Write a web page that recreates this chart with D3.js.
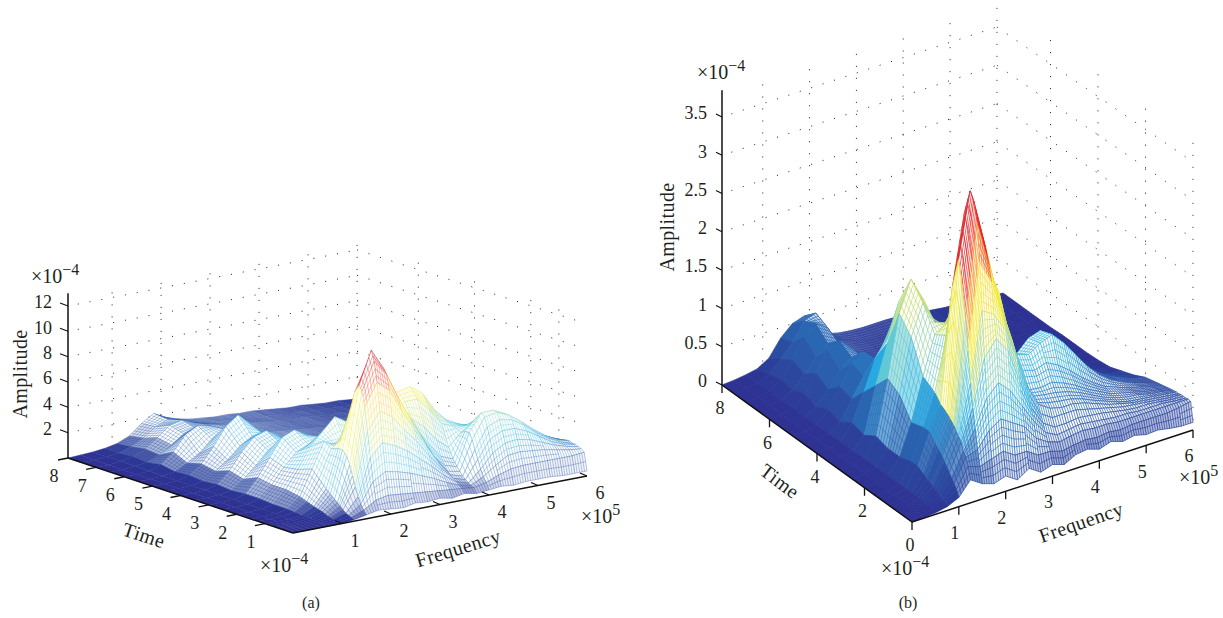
<!DOCTYPE html>
<html><head><meta charset="utf-8">
<style>html,body{margin:0;padding:0;background:#fff}svg{display:block}text{font-family:"Liberation Serif",serif;fill:#231f20}</style>
<script src="https://cdn.jsdelivr.net/npm/d3@7"></script></head>
<body><svg id="c" width="1223" height="618"></svg>
<script>
const freq=[0,.25,.5,.75,1,1.25,1.5,1.75,2,2.25,2.5,2.75,3,3.25,3.5,3.75,4,4.25,4.5,4.75,5,5.25,5.5,5.75,6];
const time=[0,.1,.2,.3,.4,.5,.6,.7,.85,1,1.25,1.5,2,2.5,3,3.5,4,4.5,5,5.5,6,6.5,7,7.5,8];
const ampA=[
[0,0,0,0,0,.1,.3,.5,.4,.3,.5,.4,.5,.3,.5,.3,.4,.5,.4,.5,.5,.5,.4,.4,.4],
[0,0,0,0,.05,.2,.6,1.2,1.4,1.3,1.2,1.1,1,.9,.8,.7,.9,1.3,1.6,1.7,1.7,1.7,1.7,1.7,1.8],
[0,0,0,0,.05,.3,1,2.6,3.2,3,2.7,2.3,1.9,1.4,1,.8,1.3,2,2.6,2.7,2.6,2.5,2.3,2.1,2],
[0,0,0,0,.1,.4,1.5,4.4,5.4,5,4.4,3.6,2.8,1.9,1.2,.9,1.8,2.9,3.5,3.6,3.4,3,2.6,2.3,2.1],
[0,0,0,.05,.15,.6,2.2,6.4,7.8,7.2,6,4.9,3.6,2.4,1.4,1.1,2.5,3.9,4.4,4.4,4,3.4,2.8,2.4,2.2],
[0,0,0,.05,.2,.8,3,8.2,10,9.2,7.4,5.8,4.3,2.8,1.6,1.3,3.2,4.8,5.2,5,4.4,3.6,3,2.5,2.2],
[0,0,0,.05,.3,1,3.8,9.4,11.6,10.4,8.3,6.4,4.7,3,1.8,1.6,3.9,5.5,5.7,5.3,4.6,3.8,3.1,2.6,2.3],
[0,0,0,.1,.4,1.2,4.4,9.8,12.4,10.8,8.6,6.8,5,3.2,2.2,1.9,4.4,5.8,5.8,5.3,4.6,3.8,3.1,2.6,2.3],
[0,0,0,.1,.5,1.5,4.8,9.2,11.2,10,8.2,6.8,5.4,4,2.8,2.4,4.4,5.4,5.4,5,4.4,3.7,3,2.6,2.2],
[0,0,0,.1,.6,1.8,4.8,7.8,8.8,8,7.2,6.6,6,5.2,4,3.2,4.2,4.9,4.9,4.6,4.1,3.5,2.9,2.5,2.1],
[0,0,0,.15,.8,2.4,4.6,5.4,5,4.8,5.4,6.4,7.2,7.2,6.2,4.9,4.5,4.4,4.3,4.1,3.7,3.2,2.7,2.3,2],
[0,0,.05,.2,1,3,5,4.4,3.8,3.8,4.8,6.6,7.8,8,7.3,5.8,4.8,4.3,3.9,3.6,3.3,2.9,2.5,2.1,1.8],
[0,0,.05,.2,1.2,2.6,4.2,5.2,6.2,5.6,4.8,4.6,5.2,5.4,5,4.4,3.8,3.4,3.1,2.9,2.6,2.4,2.1,1.8,1.5],
[0,0,.05,.3,1.2,2.4,3.4,3.8,4.2,4,3.4,3.2,3.4,3.4,3.2,3,2.8,2.6,2.4,2.2,2,1.9,1.7,1.5,1.3],
[0,0,.05,.3,1.4,2.8,4.2,4.6,4,3.2,2.6,2.4,2.4,2.4,2.3,2.2,2.1,2,1.9,1.7,1.6,1.5,1.4,1.2,1.1],
[0,0,.05,.2,.9,1.8,2.8,3.2,3,2.6,2.2,2,1.9,1.8,1.8,1.7,1.6,1.5,1.4,1.3,1.2,1.2,1.1,1,.9],
[0,0,.05,.3,1.2,2.5,3.5,3.8,3.2,2.5,2,1.8,1.7,1.6,1.5,1.4,1.3,1.3,1.2,1.1,1,1,.9,.8,.7],
[0,0,.05,.2,.8,1.5,2.4,3,2.9,2.2,1.8,1.6,1.5,1.4,1.3,1.2,1.1,1.1,1,1,.9,.8,.8,.7,.6],
[0,0,.05,.3,1,2.2,3.6,4.3,3.4,2.4,1.9,1.6,1.4,1.3,1.2,1.1,1,1,.9,.9,.8,.7,.7,.6,.5],
[0,0,.05,.2,.7,1.3,2.2,2.8,2.4,1.9,1.6,1.4,1.3,1.2,1.1,1,.9,.9,.8,.8,.7,.7,.6,.5,.5],
[0,0,.05,.4,1.2,2.4,2.9,2.7,2.2,1.9,1.6,1.4,1.3,1.2,1.1,1,.9,.8,.8,.7,.7,.6,.6,.5,.4],
[0,0,.1,.2,.6,1.2,1.9,2.1,1.8,1.6,1.4,1.3,1.2,1.1,1,.9,.8,.8,.7,.7,.6,.6,.5,.4,.4],
[0,0,.1,.3,.7,1.4,2.2,2.4,2,1.7,1.5,1.3,1.2,1.1,1,.9,.8,.8,.7,.6,.6,.5,.5,.4,.3],
[0,.05,.1,.2,.5,1,1.7,2.1,1.8,1.5,1.3,1.2,1.1,1,.9,.9,.8,.7,.7,.6,.5,.5,.4,.3,.3],
[0,.05,.1,.2,.4,.8,1.6,2.2,1.7,1.4,1.2,1.1,1,1,.9,.9,.8,.7,.6,.6,.5,.4,.4,.3,.2]];
const ampB=[
[0,.01,.02,.05,.12,.3,.2,.15,.2,.1,.2,.1,.15,.1,.18,.2,.15,.2,.15,.18,.14,.15,.12,.1,.1],
[0,.02,.04,.08,.2,.45,.4,.45,.5,.4,.4,.3,.3,.25,.28,.3,.28,.3,.28,.3,.3,.3,.3,.32,.35],
[0,.02,.05,.1,.25,.55,.6,.8,.9,.8,.7,.5,.4,.35,.38,.4,.38,.38,.36,.36,.36,.36,.36,.36,.36],
[0,.02,.05,.12,.3,.6,.85,1.2,1.35,1.2,.95,.7,.5,.42,.44,.46,.44,.42,.4,.4,.38,.38,.38,.36,.35],
[0,.02,.06,.14,.35,.7,1.1,1.7,1.9,1.7,1.25,.85,.6,.5,.5,.52,.5,.48,.45,.42,.4,.4,.38,.36,.35],
[0,.02,.06,.16,.4,.75,1.4,2.3,2.2,1.95,1.5,1,.7,.6,.6,.6,.56,.52,.48,.44,.42,.4,.38,.36,.35],
[0,.02,.06,.18,.45,.8,1.8,2.9,2.6,2.1,1.6,1.1,.8,.7,.66,.66,.62,.56,.5,.46,.42,.4,.38,.36,.34],
[0,.02,.06,.2,.5,.85,2.2,3.4,2.8,2.2,1.7,1.15,.8,.75,.72,.7,.65,.58,.52,.46,.42,.4,.38,.36,.34],
[0,.02,.06,.22,.55,.9,2.6,3.65,3,2.3,1.8,1.2,.85,.82,.8,.76,.7,.62,.54,.48,.44,.42,.38,.36,.33],
[0,.02,.06,.25,.6,.95,2.9,3.75,3.1,2.4,1.9,1.25,.9,.88,.9,.84,.76,.66,.58,.5,.46,.42,.38,.35,.32],
[0,.02,.06,.3,.7,1,2.5,3.4,2.9,2.6,2.2,1.5,1.1,1.05,1.1,1.02,.9,.76,.64,.54,.48,.42,.38,.34,.3],
[0,.02,.06,.3,.7,1.1,1.8,2.3,2.3,2.5,2.3,1.6,1.25,1.2,1.3,1.36,1.2,1,.8,.64,.52,.44,.38,.33,.28],
[0,.02,.06,.25,.65,1.2,1.7,1.8,1.5,1.2,1,1,1.05,1.1,1.25,1.3,1.2,1,.8,.62,.5,.4,.34,.28,.24],
[0,.02,.06,.25,.9,1.6,2,1.7,1.1,.7,.6,.6,.65,.7,.8,.9,.9,.8,.65,.5,.4,.32,.26,.2,.16],
[0,.02,.06,.3,1,1.8,2.2,1.9,1.3,.7,.4,.35,.35,.4,.45,.5,.55,.5,.45,.35,.28,.22,.16,.12,.1],
[0,.02,.05,.2,.8,1.3,1.8,1.5,.9,.45,.3,.25,.25,.25,.28,.3,.3,.28,.24,.2,.16,.12,.1,.06,.04],
[0,.02,.05,.25,.6,1,1.2,1,.55,.3,.2,.18,.16,.16,.16,.15,.14,.14,.12,.1,.08,.06,.05,.03,.02],
[0,.02,.05,.15,.4,.65,.8,.7,.4,.22,.18,.15,.14,.13,.12,.12,.1,.1,.08,.07,.06,.05,.03,.02,.01],
[0,.02,.05,.2,.45,.7,.8,.65,.38,.22,.16,.14,.13,.12,.11,.1,.1,.09,.08,.07,.05,.04,.03,.02,.01],
[0,.02,.04,.12,.3,.5,.62,.55,.32,.2,.15,.13,.12,.12,.11,.1,.09,.08,.07,.06,.05,.04,.02,.01,.01],
[0,.02,.05,.18,.4,.65,.72,.58,.32,.2,.15,.13,.12,.11,.1,.1,.09,.08,.07,.06,.04,.03,.02,.01,0],
[0,.02,.04,.12,.28,.45,.58,.5,.3,.2,.15,.13,.12,.11,.1,.09,.08,.07,.06,.05,.04,.03,.02,.01,0],
[0,.02,.05,.15,.35,.6,.72,.62,.35,.22,.16,.14,.13,.12,.11,.1,.09,.08,.07,.05,.04,.03,.02,.01,0],
[0,.02,.04,.1,.25,.42,.65,.7,.42,.25,.18,.15,.14,.13,.12,.11,.1,.08,.07,.05,.04,.03,.02,.01,0],
[0,.01,.03,.06,.15,.36,.5,.55,.33,.22,.18,.16,.15,.15,.15,.14,.12,.1,.08,.06,.05,.03,.02,.01,0]];
const freqTicks=[1,2,3,4,5,6];
const timeTicksA=[1,2,3,4,5,6,7,8];
const timeTicksB=[0,2,4,6,8];
const ampTicksA=[2,4,6,8,10,12];
const ampTicksB=[0,.5,1,1.5,2,2.5,3,3.5];
const wallTimeA=[6,4,2,1];
const wallTimeB=[6,4,2,0];
const colorStops=["#2e3192","#2b4ea2","#2a6fb8","#29abe2","#5fc9d8","#a5d6a0","#e6e63c","#f9ed32","#f7941d","#ed1c24","#9e1f23"];

const svg=d3.select("#c");
const jetDomain=colorStops.map((_,i)=>i/(colorStops.length-1));

function panel(o){
  const g=svg.append("g");
  const fx=d3.scaleLinear([0,6],[0,o.fv[0]]),fy=d3.scaleLinear([0,6],[0,o.fv[1]]);
  const tx=d3.scaleLinear([0,8],[0,o.tv[0]]),ty=d3.scaleLinear([0,8],[0,o.tv[1]]);
  const zy=d3.scaleLinear([0,o.zRef],[0,-o.zPx]);
  const P=(f,t,z=0)=>[o.c[0]+fx(f)+tx(t),o.c[1]+fy(f)+ty(t)+zy(z)];
  const color=d3.scaleLinear().domain(jetDomain.map(v=>v*o.zMax)).range(colorStops).interpolate(d3.interpolateRgb).clamp(true);
  const line=d3.line();
  const openAt=d3.scaleLinear(o.openF,o.openZ).clamp(true);

  const walls=g.append("g").attr("fill","none").attr("stroke","#231f20").attr("stroke-width",1).attr("stroke-dasharray","1 11");
  const s=o.shift, backF=6-s;
  o.ampTicks.filter(z=>z>0).forEach(z=>{
    walls.append("path").attr("d",line([P(0.2,8,z),P(backF,8,z)]));
    walls.append("path").attr("d",line([P(backF,8,z),P(6,o.wallEnd,z)]));
  });
  freqTicks.forEach(f=>walls.append("path").attr("d",line([P(f-s,8,o.zTop),P(f-s,8,0)])));
  o.wallTime.forEach(t=>walls.append("path").attr("d",line([P(6,t,o.zTop),P(6,t,0)])));

  // surface, painted from the far corner to the near corner
  const surf=g.append("g").attr("stroke-linejoin","round");
  for(let j=time.length-2;j>=0;j--){
    for(let i=freq.length-2;i>=0;i--){
      const f0=freq[i],f1=freq[i+1],t0=time[j],t1=time[j+1];
      const z00=o.amp[j][i],z10=o.amp[j][i+1],z01=o.amp[j+1][i],z11=o.amp[j+1][i+1];
      const a=P(f0,t0,z00),b=P(f1,t0,z10),c=P(f1,t1,z11),d=P(f0,t1,z01);
      const mix=(p,q,u)=>[p[0]+(q[0]-p[0])*u,p[1]+(q[1]-p[1])*u];
      const rangePx=Math.max(Math.abs(a[1]-d[1]),Math.abs(b[1]-c[1]));
      const nf=o.hatchF;
      const nt=Math.max(Math.round((t1-t0)/.1),Math.ceil(rangePx/o.rowPx),1);
      const pts=[[a,b,c,d]];
      for(let k=1;k<nf;k++){const u=k/nf;pts.push([mix(a,b,u),mix(d,c,u)]);}
      for(let k=1;k<nt;k++){const u=k/nt;pts.push([mix(a,d,u),mix(b,c,u)]);}
      const dStr=pts.map((p,n)=>line(p)+(n===0?"Z":"")).join("");
      const area=Math.abs(d3.polygonArea([a,b,c,d]));
      const meshCell=Math.sqrt(area*.00335/((f1-f0)*(t1-t0)));
      const zMean=(z00+z10+z01+z11)/4, zHigh=Math.max(z00,z10,z01,z11);
      const open=Math.min(1,Math.max(0,(zMean/o.zMax-openAt((f0+f1)/2)+.05)/.1));
      const k=Math.min(1,Math.pow(o.dense/meshCell,2))*(1-open*o.openAmount);
      const col=color((zMean+zHigh)/2);
      surf.append("path").attr("d",dStr).attr("fill",d3.interpolateRgb("#fff",col)(k))
        .attr("stroke",col).attr("stroke-width",o.sw);
    }
  }

  const ax=g.append("g").attr("stroke","#111").attr("fill","none");
  ax.append("path").attr("stroke-width",1.5).attr("d",line([P(0,8,0),P(0,8,o.zAxisTop)]));
  ax.append("path").attr("stroke-width",1.5).attr("d",line([P(0,8,0),P(0,0,0)]));
  ax.append("path").attr("stroke-width",1.5).attr("d",line([P(0,0,0),P(6,0,0)]));
  o.ampTicks.forEach(z=>{const p=P(0,8,z);
    ax.append("path").attr("stroke-width",1.1).attr("d",line([p,[p[0]+o.zTick[0],p[1]+o.zTick[1]]]));
    g.append("text").attr("x",o.zLabelX).attr("y",p[1]+o.zLabelDy).attr("dy",".35em").attr("text-anchor","end").attr("font-size",o.fs).text(z);
  });
  o.timeTicks.forEach(t=>{const p=P(0,t,0);
    ax.append("path").attr("stroke-width",1.3).attr("d",line([p,[p[0]+o.tTick[0],p[1]+o.tTick[1]]]));
    g.append("text").attr("x",p[0]+o.tLab[0]).attr("y",p[1]+o.tLab[1]).attr("dy",".35em").attr("text-anchor","middle").attr("font-size",o.fs).text(t);
  });
  freqTicks.forEach(f=>{const p=P(f,0,0);
    ax.append("path").attr("stroke-width",1.3).attr("d",line([p,[p[0]+o.fTick[0],p[1]+o.fTick[1]]]));
    g.append("text").attr("x",p[0]+o.fLab[0]).attr("y",p[1]+o.fLab[1]).attr("dy",".35em").attr("text-anchor","middle").attr("font-size",o.fs).text(f);
  });
  const title=(x,y,rot,str)=>g.append("text").attr("transform",`translate(${x},${y}) rotate(${rot})`).attr("text-anchor","middle").attr("dy",".35em").attr("font-size",o.fsT).attr("letter-spacing",.4).text(str);
  title(...o.ampT,"Amplitude");title(...o.timeT,"Time");title(...o.freqT,"Frequency");
  const exp=(x,y,e)=>{const t=g.append("text").attr("x",x).attr("y",y).attr("font-size",20);
    t.append("tspan").text("×10");t.append("tspan").attr("dy",-8).attr("font-size",16).text(e);};
  o.exps.forEach(e=>exp(...e));
  g.append("text").attr("x",o.cap[0]).attr("y",o.cap[1]).attr("text-anchor","middle").attr("font-size",16).text(o.cap[2]);
}

panel({amp:ampA,c:[293,533],fv:[294,-57],tv:[-225,-75],zRef:12,zPx:152,zMax:12.4,zTop:12.4,zAxisTop:13,shift:.1,wallEnd:.3,
  ampTicks:ampTicksA,timeTicks:timeTicksA,wallTime:wallTimeA,sw:.34,hatchF:5,rowPx:10,dense:2.4,openF:[0,6],openZ:[.07,.07],openAmount:1,
  zTick:[-8,-3],zLabelX:52,zLabelDy:-4,tTick:[-10,2],tLab:[-14,18],fTick:[-7,-3],fLab:[13,17],fs:18,fsT:20,
  ampT:[20,374,-90],timeT:[144,535,18],freqT:[458,548,-17],
  exps:[[31,283,"−4"],[260,572,"−4"],[581,523,"5"]],cap:[311,608,"(a)"]});
panel({amp:ampB,c:[912,522],fv:[281,-92],tv:[-190,-137],zRef:3.5,zPx:268,zMax:3.75,zTop:3.75,zAxisTop:3.85,shift:.13,wallEnd:0,
  ampTicks:ampTicksB,timeTicks:timeTicksB,wallTime:wallTimeB,sw:.7,hatchF:5,rowPx:10,dense:3.8,openF:[1.1,1.5,2],openZ:[.5,.18,.07],openAmount:1,
  zTick:[-6,-3],zLabelX:707,zLabelDy:-4,tTick:[0,8],tLab:[-2,23],fTick:[0,8],fLab:[-4,26],fs:18,fsT:20,
  ampT:[667,227,-90],timeT:[780,481,37],freqT:[1081,522,-19],
  exps:[[697,79,"−4"],[881,575,"−4"],[1179,484,"5"]],cap:[908,608,"(b)"]});
</script></body></html>
